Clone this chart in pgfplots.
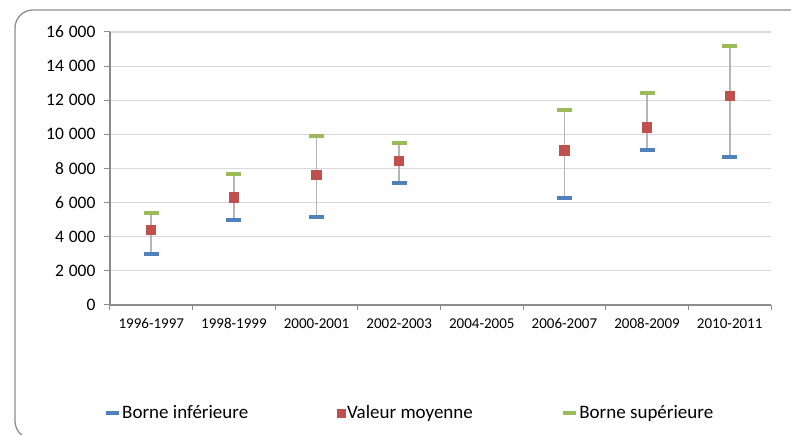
\documentclass[border=0pt]{standalone}
\usepackage{pgfplots}
\pgfplotsset{compat=1.18}
\usepackage{fontspec}
\setmainfont{Carlito}
\definecolor{cblue}{HTML}{4F81BD}
\definecolor{cred}{HTML}{C0504D}
\definecolor{cgreen}{HTML}{9BBB59}
\definecolor{cgrid}{HTML}{D9D9D9}
\definecolor{caxis}{HTML}{8C8C8C}
\definecolor{chl}{HTML}{B5B5B5}
\definecolor{cframe}{HTML}{8E8E8E}
\begin{document}
\begin{tikzpicture}
\begin{axis}[
  scale only axis, width=661pt, height=273pt,
  xmin=-0.5, xmax=7.5, ymin=0, ymax=16000,
  axis x line*=bottom, axis y line*=left,
  axis line style={caxis, line width=1.2pt},
  xtick={0,...,7},
  xticklabels={1996-1997,1998-1999,2000-2001,2002-2003,2004-2005,2006-2007,2008-2009,2010-2011},
  minor xtick={-0.5,0.5,...,7.5},
  major x tick style={draw=none},
  minor tick length=5pt,
  major tick length=6pt,
  tick align=outside,
  tick style={caxis, line width=1pt},
  ytick={0,2000,...,16000},
  scaled y ticks=false,
  ymajorgrids,
  grid style={cgrid, line width=1.2pt},
  /pgf/number format/assume math mode=true,
  y tick label style={/pgf/number format/fixed, /pgf/number format/1000 sep={\kern0.28em},
    font=\fontsize{17.5}{21}\selectfont, xshift=-5pt},
  x tick label style={font=\fontsize{15}{18}\selectfont, yshift=-4pt},
  legend columns=3,
  legend style={at={(-0.009,-0.3956)}, anchor=west, draw=none, fill=none,
    inner sep=0pt, font=\fontsize{19}{23}\selectfont,
    nodes={inner sep=1.5pt},
    /tikz/every even column/.append style={column sep=87pt}},
  legend cell align=left,
  clip=false,
]
\addplot[chl, line width=1.8pt, forget plot, unbounded coords=jump] coordinates {
  (0,3000) (0,5400) (0,nan)
  (1,5000) (1,7700) (1,nan)
  (2,5150) (2,9900) (2,nan)
  (3,7150) (3,9500) (3,nan)
  (5,6300) (5,11400) (5,nan)
  (6,9100) (6,12400) (6,nan)
  (7,8700) (7,15200)
};
\addplot[only marks, mark=-, mark size=7.5pt, mark options={line width=4pt, cblue},
  legend image code/.code={\draw[cblue, line width=4pt] (0pt,0pt) -- (12.5pt,0pt);}]
  coordinates {(0,3000) (1,5000) (2,5150) (3,7150) (5,6300) (6,9100) (7,8700)};
\addplot[only marks, mark=square*, mark size=4.6pt, mark options={draw=cred, fill=cred, line width=0pt},
  legend image code/.code={\fill[cred] (0pt,-4.2pt) rectangle (8.4pt,4.2pt);}]
  coordinates {(0,4400) (1,6300) (2,7600) (3,8450) (5,9050) (6,10400) (7,12250)};
\addplot[only marks, mark=-, mark size=7.5pt, mark options={line width=4pt, cgreen},
  legend image code/.code={\draw[cgreen, line width=4pt] (0pt,0pt) -- (12.5pt,0pt);}]
  coordinates {(0,5400) (1,7700) (2,9900) (3,9500) (5,11400) (6,12400) (7,15200)};
\legend{Borne inférieure, Valeur moyenne, Borne supérieure}
\end{axis}
\coordinate (O) at ([xshift=-110pt,yshift=-130pt]current axis.south west);
\begin{scope}
\clip (O) rectangle ([xshift=791pt,yshift=435pt]O);
\draw[cframe, line width=1.3pt, rounded corners=18pt]
  ([xshift=15pt,yshift=-4pt]O) rectangle ([xshift=830pt,yshift=425pt]O);
\end{scope}
\pgfresetboundingbox
\useasboundingbox (O) rectangle ([xshift=791pt,yshift=435pt]O);
\end{tikzpicture}
\end{document}
